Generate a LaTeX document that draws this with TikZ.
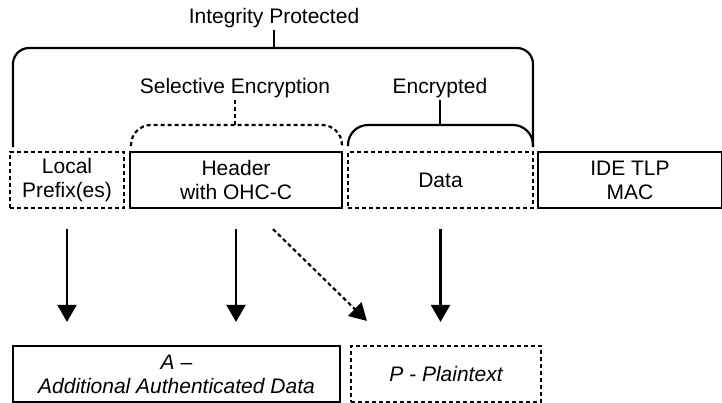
\documentclass[tikz,border=0pt]{standalone}
\usepackage{fontspec}
\setmainfont{Liberation Sans}
\usetikzlibrary{calc}
\usetikzlibrary{arrows.meta}

\begin{document}
\begin{tikzpicture}[x=0.5pt, y=-0.5pt, font=\fontsize{10.5}{12}\selectfont,
    field/.style={draw, line width=1.1pt, minimum height=28pt, align=center, inner sep=0pt},
    dashfield/.style={field, dash pattern=on 2pt off 1.5pt},
    bracket/.style={line width=1.1pt, rounded corners=8pt},
    tick/.style={line width=1.1pt},
    flow/.style={line width=1.1pt, -{Triangle[length=8.5pt, width=9.5pt]}}]
    \useasboundingbox (0, 0) rectangle (722, 402);

    % tlp fields
    \node[dashfield, minimum width=57pt] (prefix) at (67, 180) {Local\\Prefix(es)};
    \node[field, minimum width=106pt] (header) at (236, 180) {Header\\with OHC-C};
    \node[dashfield, minimum width=92.5pt] (data) at (440.5, 180) {Data};
    \node[field, minimum width=92pt] (mac) at (630, 180) {IDE TLP\\MAC};

    % aes-gcm inputs
    \node[field, minimum width=163.5pt] (aad) at (176.5, 374) {\itshape A --\\\itshape Additional Authenticated Data};
    \node[dashfield, minimum width=95pt] (plain) at (446, 374) {\itshape P - Plaintext};

    % brackets
    \draw[bracket] (13, 147) -- (13, 48) -- (533, 48) -- (533, 147);
    \node[inner sep=1pt] (integ) at (274, 18) {Integrity Protected};
    \draw[tick] (integ.south) -- (integ.south |- 0, 48);

    \draw[bracket, rounded corners=10pt, dash pattern=on 2pt off 1.5pt] (131, 146) -- (131, 125) -- (342, 125) -- (342, 146);
    \node[inner sep=1pt] (selenc) at (235, 88) {Selective Encryption};
    \draw[tick, dash pattern=on 2pt off 1.5pt] (selenc.south) -- (selenc.south |- 0, 125);

    \draw[bracket, rounded corners=10pt] (348, 146) -- (348, 125) -- (533, 125) -- (533, 146);
    \node[inner sep=1pt] (enc) at (440, 88) {Encrypted};
    \draw[tick] (enc.south) -- (enc.south |- 0, 125);

    % arrows
    \draw[flow, shorten <=10pt, shorten >=11.5pt] (prefix.south) -- (prefix.south |- aad.north);
    \draw[flow, shorten <=10pt, shorten >=11.5pt] (header.south) -- (header.south |- aad.north);
    \draw[flow, shorten <=10pt, shorten >=11.5pt] (data.south) -- (data.south |- plain.north);
    \draw[flow, dash pattern=on 2pt off 1.5pt] ($(header.south)+(37, 20)$) -- ($(plain.north west)+(17, -24)$);
\end{tikzpicture}
\end{document}
